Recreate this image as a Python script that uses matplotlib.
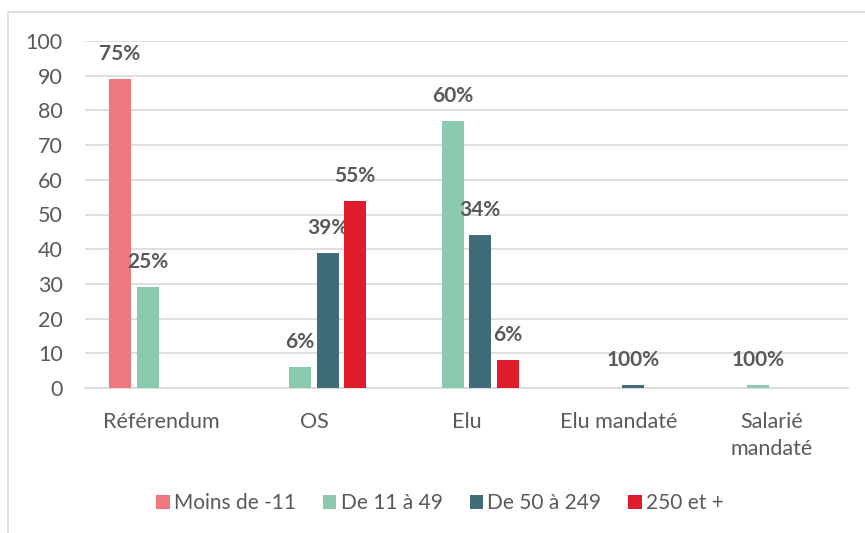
import numpy as np
import matplotlib
matplotlib.use("Agg")
import matplotlib.pyplot as plt
from matplotlib.patches import Rectangle

plt.rcParams['font.family'] = ['Lato', 'DejaVu Sans']

categories = ["Référendum", "OS", "Elu", "Elu mandaté", "Salarié\nmandaté"]
series = ["Moins de -11", "De 11 à 49", "De 50 à 249", "250 et +"]
moins_11 = [89, 0, 0, 0, 0]
de_11_49 = [29, 6, 77, 0, 1]
de_50_249 = [0, 39, 44, 1, 0]
de_250 = [0, 54, 8, 0, 0]
labels_moins_11 = ["75%", "", "", "", ""]
labels_11_49 = ["25%", "6%", "60%", "", "100%"]
labels_50_249 = ["", "39%", "34%", "100%", ""]
labels_250 = ["", "55%", "6%", "", ""]

colors = ["#EF7780", "#8AC9AD", "#406C78", "#E01B2B"]
values = [moins_11, de_11_49, de_50_249, de_250]
labels = [labels_moins_11, labels_11_49, labels_50_249, labels_250]
txt = "#595959"

fig = plt.figure(figsize=(8.65, 5.33), dpi=100)
ax = fig.add_axes([85 / 865, 1 - 388 / 533, (848 - 85) / 865, (388 - 41) / 533])

# light frame around chart area (cropped on right/bottom)
fig.patches.append(Rectangle((8 / 865, -0.1), 1.2, 1 - 12 / 533 + 0.1,
                             transform=fig.transFigure, fill=False,
                             edgecolor="#D9D9D9", linewidth=1.2))

ind = np.arange(len(categories))
step = 0.18
width = 0.145
for i, (vals, lab, col, name) in enumerate(zip(values, labels, colors, series)):
    x = ind + (i - 1.5) * step
    ax.bar(x, vals, width, color=col, label=name, zorder=3)
    for xx, v, l in zip(x, vals, lab):
        if l:
            ax.annotate(l, (xx, v), xytext=(0, 18), textcoords="offset points",
                        ha="center", va="center", fontsize=15,
                        fontweight="bold", color=txt)

ax.set_xlim(-0.5, len(categories) - 0.5)
ax.set_ylim(0, 100)
ax.set_yticks(np.arange(0, 101, 10))
ax.yaxis.grid(True, color="#D9D9D9", linewidth=1.2, zorder=0)
ax.set_axisbelow(True)
for s in ["left", "right", "top"]:
    ax.spines[s].set_visible(False)
ax.spines["bottom"].set_color("#D9D9D9")
ax.spines["bottom"].set_linewidth(1.2)
ax.tick_params(axis="both", length=0, colors=txt, labelsize=15.5)
ax.tick_params(axis="y", pad=16)
ax.tick_params(axis="x", pad=17)
ax.set_xticks(ind)
ax.set_xticklabels(categories, linespacing=1.45, va="top")

fig.legend(loc="center", bbox_to_anchor=(440 / 865, 1 - 503 / 533), ncol=4,
           frameon=False, fontsize=15, handlelength=0.65, handleheight=0.65,
           handletextpad=0.2, columnspacing=1.3, labelcolor=txt)

plt.savefig("out.png", dpi=100)
